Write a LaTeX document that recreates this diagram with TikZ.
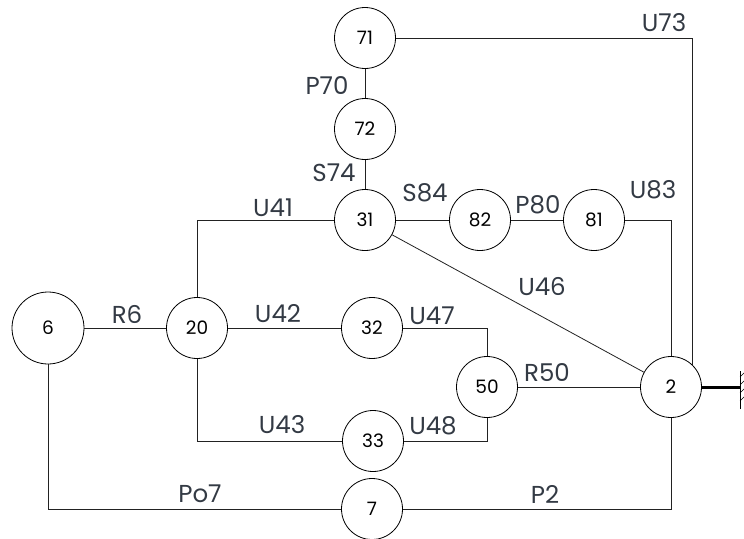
\documentclass[tikz,border=0pt]{standalone}
\usepackage{fontspec}
\setmainfont{Poppins}
\begin{document}
\begin{tikzpicture}[x=1pt,y=-1pt,
  nd/.style={circle,draw=black,line width=0.8pt,minimum size=61pt,inner sep=0pt,font=\fontsize{18.5}{18.5}\selectfont},
  ndbig/.style={nd,minimum size=72pt},
  lbl/.style={text=labelc,font=\fontsize{24.5}{24.5}\selectfont,inner sep=0pt},
  wire/.style={draw=wirec,line width=0.8pt},
  thick wire/.style={draw=black,line width=3pt}]
\definecolor{labelc}{HTML}{333A44}
\definecolor{wirec}{HTML}{222222}
\useasboundingbox (0,0) rectangle (744,538);
% nodes
\node[nd] (n71) at (365,38) {71};
\node[nd] (n72) at (365,129) {72};
\node[nd] (n31) at (365,220) {31};
\node[nd] (n82) at (480,220) {82};
\node[nd] (n81) at (594,220) {81};
\node[ndbig] (n6) at (48,328) {6};
\node[nd] (n20) at (197,328) {20};
\node[nd] (n32) at (372,328) {32};
\node[nd] (n50) at (487,387) {50};
\node[nd] (n2) at (671,387) {2};
\node[nd] (n33) at (373,441) {33};
\node[nd] (n7) at (372,509) {7};
\coordinate (gnd) at (740,387);
% connectors
\draw[wire] (n71) -- (n72);
\draw[wire] (n72) -- (n31);
\draw[wire] (n31) -- (n82);
\draw[wire] (n82) -- (n81);
\draw[wire] (n81.east) -| (n2.north);
\draw[wire] (n71.east) -| (n2.north east);
\draw[wire] (n31.west) -| (n20.north);
\draw[wire] (n31) -- (n2);
\draw[wire] (n6) -- (n20);
\draw[wire] (n20) -- (n32);
\draw[wire] (n20.south) |- (n33.west);
\draw[wire] (n32.east) -| (n50.north);
\draw[wire] (n33.east) -| (n50.south);
\draw[wire] (n50) -- (n2);
\draw[wire] (n6.south) |- (n7.west);
\draw[wire] (n7.east) -| (n2.south);
\draw[thick wire] (n2.east) -- (gnd);
% ground symbol
\draw[line width=0.8pt] ([yshift=-22]gnd) -- ([yshift=16]gnd);
\foreach \dy in {-14,-6,2,10}
  \draw[line width=0.6pt] ([yshift=\dy]gnd) -- ++(5,-5);
% labels
\node[lbl] (l73) at (664,23) {U73};
\node[lbl] (l70) at (327,86) {P70};
\node[lbl] (l74) at (334,173) {S74};
\node[lbl] (l84) at (425,193) {S84};
\node[lbl] (l41) at (273,208) {U41};
\node[lbl] (l80) at (538,205) {P80};
\node[lbl] (l83) at (653,190) {U83};
\node[lbl] (l46) at (542,287) {U46};
\node[lbl] (l6) at (127,314) {R6};
\node[lbl] (l42) at (278,314) {U42};
\node[lbl] (l47) at (432,316) {U47};
\node[lbl] (l50) at (547,373) {R50};
\node[lbl] (l43) at (282,425) {U43};
\node[lbl] (l48) at (433,426) {U48};
\node[lbl] (lo7) at (200,494) {Po7};
\node[lbl] (l2) at (545,494) {P2};
\end{tikzpicture}
\end{document}
